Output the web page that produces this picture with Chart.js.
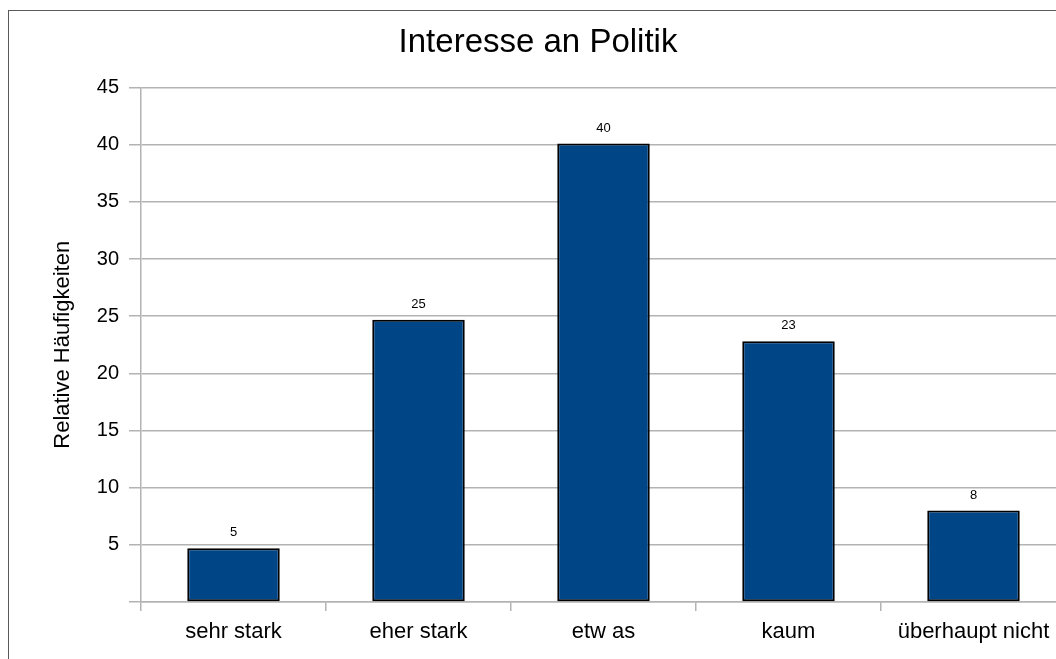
<!DOCTYPE html>
<html>
<head>
<meta charset="utf-8">
<script src="https://cdn.jsdelivr.net/npm/chart.js@4/dist/chart.umd.min.js"></script>
<style>
  html, body { margin: 0; padding: 0; overflow: hidden; background: #fff; width: 1056px; height: 659px; }
  #wrap { position: absolute; left: 0; top: 0; width: 1075px; height: 680px; }
  #frame { position: absolute; left: 8px; top: 10px; width: 1100px; height: 700px; border: 1px solid #5a5a5a; pointer-events: none; }
</style>
</head>
<body>
<div id="wrap"><canvas id="barChart"></canvas></div>
<div id="frame"></div>
<script>
var categories = ["sehr stark", "eher stark", "etw as", "kaum", "überhaupt nicht"];
var values = [4.7, 24.7, 40.1, 22.8, 8.0];
var shownLabels = ["5", "25", "40", "23", "8"];

var fontName = "'Liberation Sans', Arial, sans-serif";

// value labels above each bar
var barLabels = {
    id: 'barLabels',
    afterDatasetsDraw: function(chart) {
        var ctx = chart.ctx;
        var meta = chart.getDatasetMeta(0);
        ctx.save();
        ctx.fillStyle = '#000';
        ctx.font = '13px ' + fontName;
        ctx.textAlign = 'center';
        ctx.textBaseline = 'alphabetic';
        meta.data.forEach(function(bar, i) {
            ctx.fillText(shownLabels[i], bar.x, bar.y - 12);
        });
        ctx.restore();
    }
};

var bar = document.getElementById("barChart").getContext('2d');
var myBarChart = new Chart(bar, {
    type: 'bar',
    data: {
        labels: categories,
        datasets: [{
            data: values,
            backgroundColor: '#004586',
            borderColor: '#000',
            borderWidth: 2,
            borderSkipped: false,
            barPercentage: 0.5,
            categoryPercentage: 1
        }]
    },
    plugins: [barLabels],
    options: {
        responsive: true,
        maintainAspectRatio: false,
        animation: false,
        layout: { padding: { left: 10, right: 9, top: 0, bottom: 0 } },
        plugins: {
            legend: { display: false },
            tooltip: { enabled: false },
            title: {
                display: true,
                text: 'Interesse an Politik',
                color: '#000',
                font: { family: fontName, size: 33, weight: 'normal' },
                padding: { top: 23, bottom: 25 }
            }
        },
        scales: {
            x: {
                offset: true,
                grid: { display: true, drawOnChartArea: false, drawTicks: true, tickLength: 9, color: '#b3b3b3', lineWidth: 1.5, offset: true },
                border: { display: true, color: '#b3b3b3', width: 1.5 },
                ticks: { color: '#000', padding: 8, font: { family: fontName, size: 22 } },
                afterFit: function(scale) { scale.height = 78; }
            },
            y: {
                min: 0,
                max: 45,
                grid: { color: '#b3b3b3', lineWidth: 1.5, tickLength: 12 },
                border: { display: true, color: '#b3b3b3', width: 1.5 },
                ticks: {
                    stepSize: 5,
                    color: '#000',
                    padding: 10,
                    font: { family: fontName, size: 20 },
                    callback: function(v) { return v === 0 ? '' : v; }
                },
                title: {
                    display: true,
                    text: 'Relative Häufigkeiten',
                    color: '#000',
                    font: { family: fontName, size: 22 },
                    padding: { top: 40, bottom: 0 }
                },
                afterFit: function(scale) { scale.width = 131; }
            }
        }
    }
});
</script>
</body>
</html>
